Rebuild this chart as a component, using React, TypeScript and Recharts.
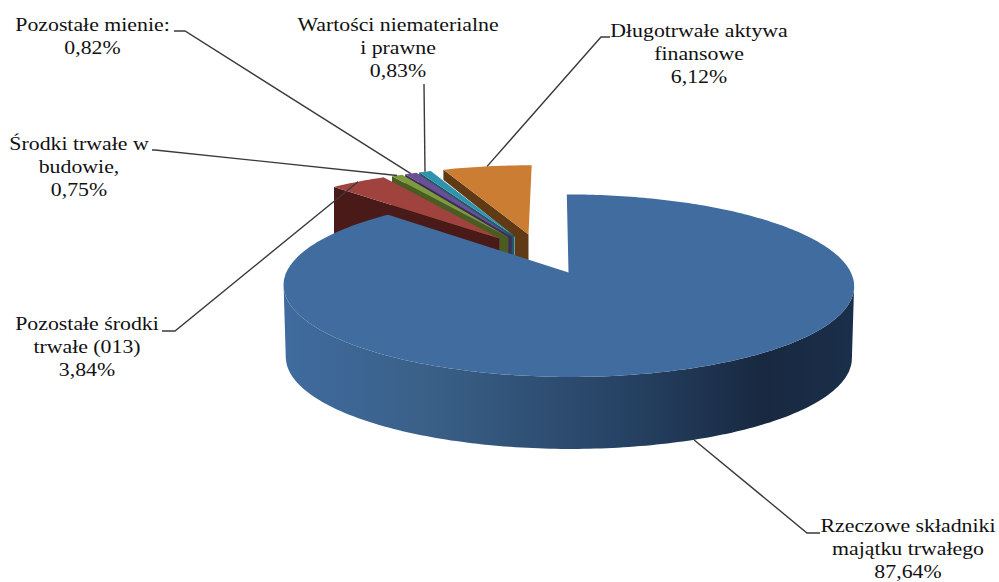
import { Pie, PieChart } from "recharts";

// drawing order: back slices first, the big one last so it covers the others
const sliceNames = [
  "Długotrwałe aktywa finansowe",
  "Wartości niematerialne i prawne",
  "Pozostałe mienie",
  "Środki trwałe w budowie",
  "Pozostałe środki trwałe (013)",
  "Rzeczowe składniki majątku trwałego",
];
const sliceValues = [6.12, 0.83, 0.82, 0.75, 3.84, 87.64];
const labelLines = [
  ["Długotrwałe aktywa", "finansowe"],
  ["Wartości niematerialne", "i prawne"],
  ["Pozostałe mienie:"],
  ["Środki trwałe w", "budowie,"],
  ["Pozostałe środki", "trwałe (013)"],
  ["Rzeczowe składniki", "majątku trwałego"],
];
const topColors = ["#CC7D34", "#2F93AC", "#6A4F95", "#7D9B3C", "#A0433F", "#416CA0"];
const wallColors = ["#5F3A14", "#1F5A6B", "#3B2D57", "#4A5C22", "#4A1A18", "#1B2F4A"];

// how far each slice is pulled out, in disc units (across, towards the back)
const pullOuts = [
  [-0.1, 0.324],
  [-0.152, 0.303],
  [-0.163, 0.295],
  [-0.175, 0.288],
  [-0.209, 0.27],
  [0.048, -0.13],
];
// where the label sits: text centre x, first baseline y, then leader elbow and tail
const labelSpots = [
  { x: 699, y: 37, elbow: [601, 37], tail: [610, 37], from: [0, 0] },
  { x: 398, y: 31, elbow: [424, 84], tail: [424, 84], from: [0, 0] },
  { x: 92.5, y: 31, elbow: [185, 31], tail: [174, 31], from: [0, 0] },
  { x: 79, y: 150, elbow: [155, 150], tail: [152, 150], from: [0, 0] },
  { x: 87, y: 330, elbow: [175, 331], tail: [162, 331], from: [0, 0] },
  { x: 908, y: 532, elbow: [807, 533], tail: [820, 533], from: [0, 72] },
];

const data = sliceNames.map((name, i) => ({ name, value: sliceValues[i] }));

const TILT = 0.3105;
const PERSPECTIVE = 0.143;
const DEPTH = 72;
const RAD = Math.PI / 180;

function project(cx: number, cy: number, r: number, u: number, v: number) {
  const f = 1 / (1 + PERSPECTIVE * v);
  return [cx + r * u * f, cy - r * TILT * v * f];
}

// recharts angles run counter-clockwise from 3 o'clock
function rimPoint(p: any, angle: number, index: number) {
  const [du, dv] = pullOuts[index];
  return project(p.cx, p.cy, p.outerRadius, Math.cos(angle * RAD) + du, Math.sin(angle * RAD) + dv);
}

const toPath = (pts: number[][]) => "M" + pts.map((q) => `${q[0].toFixed(1)},${q[1].toFixed(1)}`).join("L") + "Z";
const down = (q: number[], d: number) => [q[0], q[1] + d];

function Slice3D(props: any) {
  const { cx, cy, outerRadius, startAngle, endAngle, index } = props;
  const [du, dv] = pullOuts[index];
  const apex = project(cx, cy, outerRadius, du, dv);
  const rim: number[][] = [];
  const steps = Math.max(2, Math.ceil(Math.abs(endAngle - startAngle)));
  for (let i = 0; i <= steps; i++) {
    rim.push(rimPoint(props, startAngle + ((endAngle - startAngle) * i) / steps, index));
  }
  const face = toPath([apex, ...rim]);
  if (index === sliceNames.length - 1) {
    // outer wall between the leftmost and rightmost rim points, a bit narrower at the foot
    const xs = rim.map((q) => q[0]);
    const a = xs.indexOf(Math.min(...xs));
    const b = xs.indexOf(Math.max(...xs));
    const front = rim.slice(a, b + 1);
    const mid = cx + 15;
    const foot = front.map((q) => [mid + (q[0] - mid) * 0.992, q[1] + DEPTH]).reverse();
    return (
      <g>
        <path d={toPath([...front, ...foot])} fill="url(#sideShade)" />
        <path d={face} fill={topColors[index]} />
      </g>
    );
  }
  // visible cut wall runs along the slice's far (counter-clockwise) edge
  const last = rim[rim.length - 1];
  let wall = [apex, last, down(last, DEPTH), down(apex, DEPTH)];
  if (index === 0) {
    // the orange wall is only a thin strip until close to the centre
    const t = 0.16;
    const near = [apex[0] + (last[0] - apex[0]) * t, apex[1] + (last[1] - apex[1]) * t];
    wall = [apex, last, down(last, 10), down(near, 13), down(near, DEPTH), down(apex, DEPTH)];
  }
  return (
    <g>
      <path d={toPath(wall)} fill={wallColors[index]} />
      <path d={face} fill={topColors[index]} />
    </g>
  );
}

function SliceLabel(props: any) {
  const { index, midAngle } = props;
  const spot = labelSpots[index];
  const rim = rimPoint(props, midAngle, index);
  const start = [rim[0] + spot.from[0], rim[1] + spot.from[1]];
  const lines = [...labelLines[index], sliceValues[index].toFixed(2).replace(".", ",") + "%"];
  return (
    <g>
      <polyline
        points={[start, spot.elbow, spot.tail].map((q) => q.join(",")).join(" ")}
        fill="none"
        stroke="#3a3a3a"
        strokeWidth={1.4}
      />
      {/* the source text is stretched sideways */}
      <text
        transform={`translate(${spot.x} 0) scale(1.18 1)`}
        textAnchor="middle"
        fontFamily="Liberation Serif"
        fontSize={18.5}
        fill="#111"
      >
        {lines.map((t, i) => (
          <tspan key={t} x={0} y={spot.y + i * 23.2}>
            {t}
          </tspan>
        ))}
      </text>
    </g>
  );
}

export default function App() {
  return (
    <div style={{ position: "absolute", left: 0, top: 0, width: 999, height: 582, background: "#fff" }}>
      <PieChart width={999} height={582} margin={{ top: 0, right: 0, bottom: 0, left: 0 }}>
        <defs>
          <linearGradient id="sideShade" gradientUnits="userSpaceOnUse" x1={284} y1={0} x2={856} y2={0}>
            <stop offset="0" stopColor="#3F6B9E" />
            <stop offset="0.25" stopColor="#3A6088" />
            <stop offset="0.6" stopColor="#264263" />
            <stop offset="0.84" stopColor="#182840" />
            <stop offset="1" stopColor="#1B2F4A" />
          </linearGradient>
        </defs>
        <Pie
          data={data}
          dataKey="value"
          nameKey="name"
          cx={555}
          cy={261}
          outerRadius={277}
          startAngle={90}
          endAngle={450}
          paddingAngle={0}
          stroke="none"
          isAnimationActive={false}
          shape={Slice3D}
          inactiveShape={Slice3D}
          activeShape={Slice3D}
          label={SliceLabel}
          labelLine={false}
        />
      </PieChart>
    </div>
  );
}
